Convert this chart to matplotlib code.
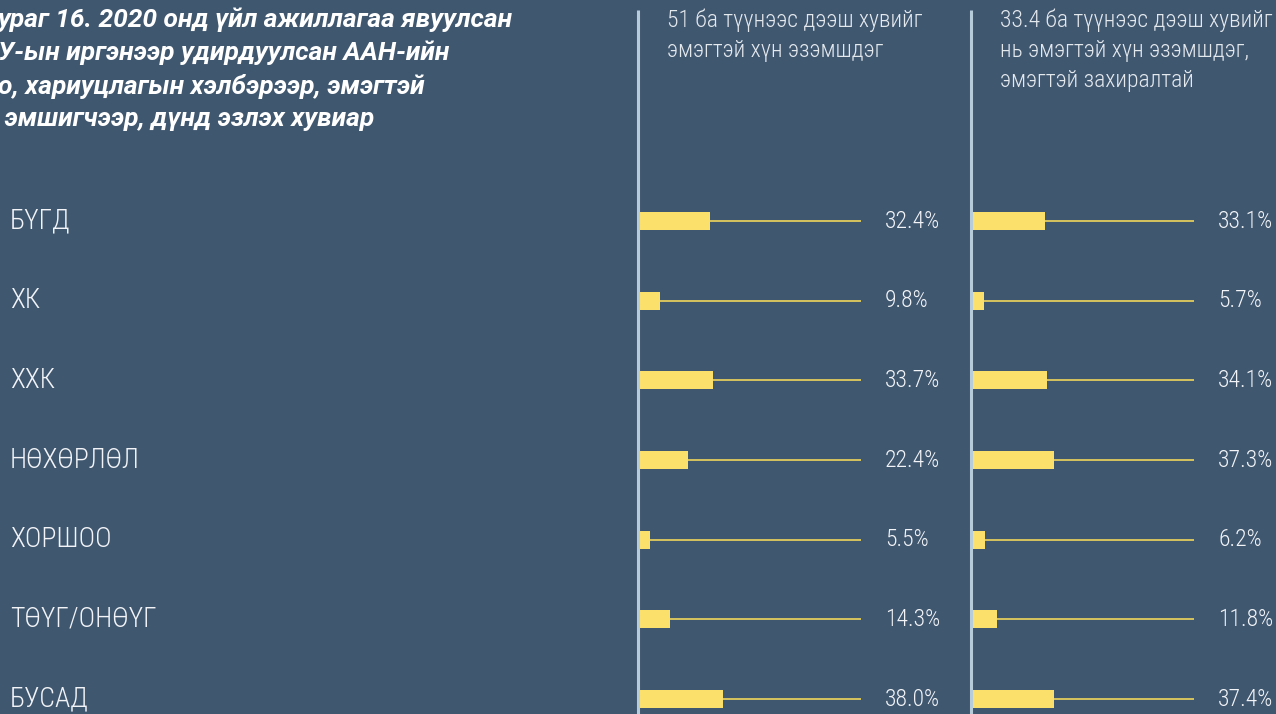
import matplotlib
matplotlib.use("Agg")
import matplotlib.pyplot as plt
from matplotlib import font_manager
import matplotlib.transforms as mtransforms

categories = ["БҮГД", "ХК", "ХХК", "НӨХӨРЛӨЛ", "ХОРШОО", "ТӨҮГ/ОНӨҮГ", "БУСАД"]
share_51 = [32.4, 9.8, 33.7, 22.4, 5.5, 14.3, 38.0]
share_334 = [33.1, 5.7, 34.1, 37.3, 6.2, 11.8, 37.4]
panel_titles = ["51 ба түүнээс дээш хувийг\nэмэгтэй хүн эзэмшдэг",
                "33.4 ба түүнээс дээш хувийг\nнь эмэгтэй хүн эзэмшдэг,\nэмэгтэй захиралтай"]
title_text = ("ураг 16. 2020 онд үйл ажиллагаа явуулсан\n"
              "У-ын иргэнээр удирдуулсан ААН-ийн\n"
              "о, хариуцлагын хэлбэрээр, эмэгтэй\n"
              " эмшигчээр, дүнд эзлэх хувиар")

names = {f.name for f in font_manager.fontManager.ttflist}
cond = "Roboto Condensed" if "Roboto Condensed" in names else "Roboto"
FONT = [cond, "DejaVu Sans"]

BG = "#405770"
YEL = "#FCE06C"
LINE = "#E2CB5C"
AXC = "#B7CCDA"
TXT = "#F2F4F7"

W, H = 1276, 714
fig = plt.figure(figsize=(W / 100, H / 100), dpi=100, facecolor=BG)

row0, step = 221, 79.67
ytop = -row0 / step
ybot = (H - row0) / step

def panel(x0, values, head):
    ax = fig.add_axes([x0 / W, 0, 223 / W, 1])
    ax.set_facecolor("none")
    ax.set_xlim(0, 100)
    ax.set_ylim(ybot, ytop)
    ax.axis("off")
    idx = list(range(len(values)))
    ax.hlines(idx, values, 100, color=LINE, lw=1.3, zorder=1)
    ax.barh(idx, values, height=18 / step, color=YEL, zorder=2, left=0)
    ax.plot([0, 0], [ybot, ytop + 10 / step], color=AXC, lw=2.2, zorder=3,
            clip_on=False, solid_capstyle="butt")
    for i, v in enumerate(values):
        ax.text(110.8, i, f"{v:.1f}%", ha="left", va="center", color=TXT,
                fontsize=17, family=FONT, fontweight="light")
    ax.text(29 / 2.23, ytop + 9 / step, head, ha="left", va="top", color="#E4E9EE",
            fontsize=17, family=FONT, fontweight="light", linespacing=1.38)
    return ax

ax1 = panel(638, share_51, panel_titles[0])
ax2 = panel(971, share_334, panel_titles[1])

tr = mtransforms.blended_transform_factory(fig.transFigure, ax1.transData)
for i, c in enumerate(categories):
    ax1.text(10 / W, i, c, transform=tr, ha="left", va="center", color=TXT,
             fontsize=20, family=FONT, fontweight="light")

fig.text(-2 / W, 1 - 8 / H, title_text, ha="left", va="top", color="white",
         fontsize=19, family=["Roboto", "DejaVu Sans"], fontweight="bold",
         fontstyle="italic", linespacing=1.42)

fig.savefig("out.png", dpi=100, facecolor=BG)
